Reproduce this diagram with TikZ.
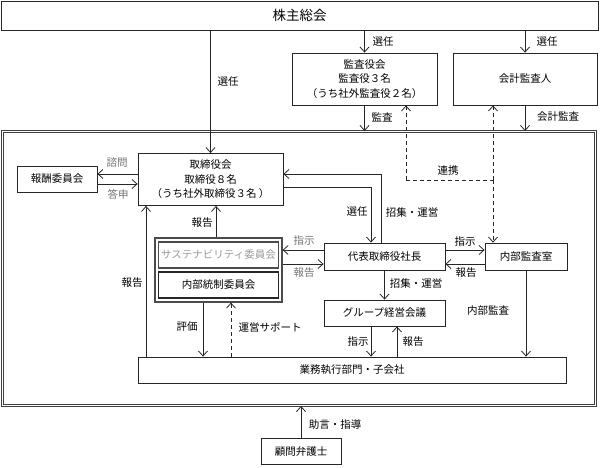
\documentclass[tikz,border=0pt]{standalone}
\usepackage{fontspec}
\setmainfont{Noto Sans CJK JP}
\usetikzlibrary{arrows.meta,calc}
\begin{document}
\begin{tikzpicture}[x=1pt,y=-1pt,
  box/.style={draw=black!85, line width=0.8pt, fill=white, inner sep=0pt, align=center, font=\fontsize{10.5}{14.5}\selectfont},
  arr/.style={draw=black!85, line width=0.8pt, -{Straight Barb[length=5pt,width=9pt,line width=0.8pt]}},
  dasharr/.style={arr, dash pattern=on 4pt off 3pt},
  plain/.style={draw=black!85, line width=0.8pt},
  plaindash/.style={plain, dash pattern=on 4pt off 3pt},
  lbl/.style={font=\fontsize{10.5}{12}\selectfont, inner sep=0pt},
  glbl/.style={lbl, text=black!55},
]
\useasboundingbox (0,0) rectangle (600,467);

% main boxes
\node[box, minimum width=597, minimum height=29, font=\fontsize{13.5}{16}\selectfont] (kabu) at (299.5,15.5) {株主総会};
\node[box, minimum width=145, minimum height=52] (kansa) at (364.5,79) {監査役会\\監査役３名\\（うち社外監査役２名）};
\node[box, minimum width=144, minimum height=52] (kaikei) at (525,79) {会計監査人};

% double frame
\node[draw=black!75, line width=0.9pt, double, double distance=1.8pt, minimum width=593, minimum height=274, inner sep=0pt] (frame) at (299,268.5) {};

\node[box, minimum width=145, minimum height=52] (tori) at (210.5,179.5) {取締役会\\取締役８名\\（うち社外取締役３名 ）};
\node[box, minimum width=80, minimum height=26] (hoshu) at (57,179) {報酬委員会};
\node[box, minimum width=121, minimum height=27] (daihyo) at (384.5,256.5) {代表取締役社長};
\node[box, minimum width=82, minimum height=27] (naibu) at (526,256.5) {内部監査室};

\node[box, draw=black!70, line width=1.2pt, minimum width=127, minimum height=64] (group) at (218.5,270) {};
\node[box, draw=black!70, line width=1.1pt, minimum width=120, minimum height=26, text=black!40] (sus) at (218.5,255) {サステナビリティ委員会};
\node[box, draw=black!85, line width=1.1pt, minimum width=120, minimum height=26] (tosei) at (218.5,285) {内部統制委員会};

\node[box, minimum width=121, minimum height=26] (mtg) at (384.5,313) {グループ経営会議};
\node[box, minimum width=428, minimum height=26] (gyomu) at (352,370) {業務執行部門・子会社};
\node[box, minimum width=80, minimum height=26] (komon) at (301,451) {顧問弁護士};

% junction coordinates
\coordinate (j1) at (381,174);
\coordinate (j2) at (371,187);
\coordinate (d1) at (406,180);
\coordinate (d2) at (493,180);

% arrows from shareholders
\draw[arr] (kabu.south -| tori.north) -- (tori.north);
\draw[arr] (kabu.south -| kansa.north) -- (kansa.north);
\draw[arr] (kabu.south -| kaikei.north) -- (kaikei.north);
\draw[arr] (kansa.south) -- (kansa.south |- frame.north);
\draw[arr] (kaikei.south) -- (kaikei.south |- frame.north);

% cooperation (dashed)
\draw[dasharr] (d1) -- (kansa.south -| d1);
\draw[plaindash] (d1) -- (d2);
\draw[dasharr] (d2) -- (kaikei.south -| d2);
\draw[dasharr] (d2) -- (naibu.north -| d2);

% board <-> compensation committee
\draw[arr] (tori.west |- 0,174) -- (hoshu.east |- 0,174);
\draw[arr] (hoshu.east |- 0,184) -- (tori.west |- 0,184);

% board <-> president
\draw[arr] (daihyo.north -| j1) -- (j1) -- (tori.east |- j1);
\draw[arr] (tori.east |- j2) -- (j2) -- (daihyo.north -| j2);

% president <-> internal audit
\draw[arr] (daihyo.east |- 0,250) -- (naibu.west |- 0,250);
\draw[arr] (naibu.west |- 0,264) -- (daihyo.east |- 0,264);

% president <-> committees
\draw[arr] (daihyo.west |- 0,250) -- (group.east |- 0,250);
\draw[arr] (group.east |- 0,264) -- (daihyo.west |- 0,264);

% committees -> board
\draw[arr] (group.north -| 216,0) -- (tori.south -| 216,0);
% operations -> board
\draw[arr] (gyomu.north -| 146,0) -- (tori.south -| 146,0);
% committees <-> operations
\draw[arr] (group.south -| 203,0) -- (gyomu.north -| 203,0);
\draw[dasharr] (gyomu.north -| 231,0) -- (group.south -| 231,0);

% president -> group meeting
\draw[arr] (daihyo.south) -- (mtg.north);
\draw[arr] (mtg.south -| 371,0) -- (gyomu.north -| 371,0);
\draw[arr] (gyomu.north -| 397,0) -- (mtg.south -| 397,0);

% internal audit -> operations
\draw[arr] (naibu.south) -- (gyomu.north -| naibu.south);

% lawyer -> frame
\draw[arr] (komon.north) -- (komon.north |- frame.south);

% labels
\node[lbl] (l1) at (383,42) {選任};
\node[lbl] (l2) at (547,42) {選任};
\node[lbl] (l3) at (228,82) {選任};
\node[lbl] (l4) at (382,117) {監査};
\node[lbl] (l5) at (558,117) {会計監査};
\node[lbl] (l6) at (448,171) {連携};
\node[glbl] (l7) at (117,163) {諮問};
\node[glbl] (l8) at (118,194) {答申};
\node[lbl] (l9) at (202,223) {報告};
\node[lbl] (l10) at (132,283) {報告};
\node[lbl] (l11) at (357,212) {選任};
\node[lbl] (l12) at (412,212) {招集・運営};
\node[glbl] (l13) at (304,241) {指示};
\node[glbl] (l14) at (304,273) {報告};
\node[lbl] (l15) at (465,242) {指示};
\node[lbl] (l16) at (466,273) {報告};
\node[lbl] (l17) at (416,283) {招集・運営};
\node[lbl] (l18) at (187,327) {評価};
\node[lbl] (l19) at (270,327) {運営サポート};
\node[lbl] (l20) at (358,342) {指示};
\node[lbl] (l21) at (413,342) {報告};
\node[lbl] (l22) at (488,311) {内部監査};
\node[lbl] (l23) at (335,425) {助言・指導};
\end{tikzpicture}
\end{document}
